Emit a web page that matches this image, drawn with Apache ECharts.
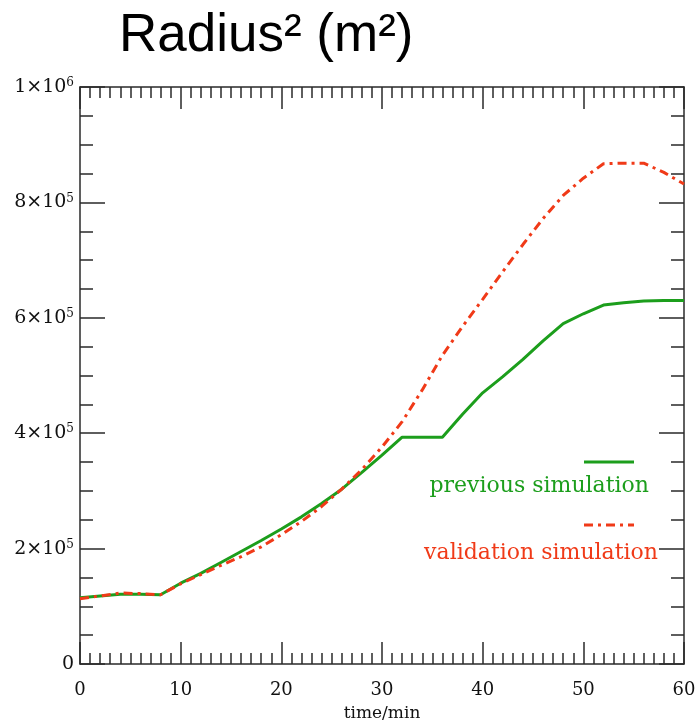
<!DOCTYPE html>
<html>
<head>
<meta charset="utf-8">
<script src="https://cdn.jsdelivr.net/npm/echarts@6/dist/echarts.min.js"></script>
<style>html,body{margin:0;padding:0;background:#fff;}#c{width:695px;height:724px;}</style>
</head>
<body>
<div id="c"></div>
<script>
// time in minutes
var times = [0,2,4,6,8,10,12,14,16,18,20,22,24,26,28,30,32,34,36,38,40,42,44,46,48,50,52,54,56,58,60];
// Radius^2 (m^2)
var previousSim = [115000,118000,121000,121000,120000,140000,157000,176000,195000,214000,234000,255000,278000,303000,332000,362000,393000,393000,393000,433000,470000,498000,528000,560000,590000,607000,622000,626000,629000,630000,630000];
var validationSim = [113000,118000,123000,122000,120000,139000,155000,171000,186000,203000,224000,247000,273000,303000,337000,376000,420000,475000,535000,585000,632000,680000,727000,772000,812000,842000,867000,868000,868000,852000,832000];
var xTicks = [0,10,20,30,40,50,60];
// y tick labels: [mantissa, exponent]
var yTickLabels = {0:['0',''],200000:['2×10','5'],400000:['4×10','5'],600000:['6×10','5'],800000:['8×10','5'],1000000:['1×10','6']};
var seriesNames = ['previous simulation','validation simulation'];

var GREEN = '#1c9e1c', RED = '#f03a18', AX = '#2a2a2a';
var FONT = 'DejaVu Serif';

function pairs(v){ return times.map(function(t,i){ return [t, v[i]]; }); }

var chart = echarts.init(document.getElementById('c'), null, {renderer:'canvas'});
function axLine(){ return {show:true, onZero:false, lineStyle:{color:AX, width:1.5}}; }
chart.setOption({
  animation:false,
  backgroundColor:'#fff',
  title:{text:'Radius² (m²)', left:114, top:5,
    textStyle:{fontFamily:'Liberation Sans', fontSize:53, fontWeight:'normal', color:'#000'}},
  grid:{left:80, right:11, top:87, bottom:60, containLabel:false, outerBoundsMode:'none'},
  xAxis:[
    {type:'value', min:0, max:60, interval:10, position:'bottom',
      axisLine:axLine(), splitLine:{show:false},
      name:'time/min', nameLocation:'middle', nameGap:41,
      nameTextStyle:{fontFamily:FONT, fontSize:17, color:'#111'},
      axisTick:{show:true, inside:true, length:22, lineStyle:{color:AX, width:1.5}},
      minorTick:{show:true, splitNumber:10, length:11, lineStyle:{color:AX, width:1.5}},
      axisLabel:{fontFamily:FONT, fontSize:18, color:'#111', margin:17,
        formatter:function(v){ return xTicks.indexOf(v)>=0 ? String(v) : ''; }}
    },
    {type:'value', min:0, max:60, interval:10, position:'top',
      axisLine:axLine(), splitLine:{show:false},
      axisTick:{show:true, inside:true, length:22, lineStyle:{color:AX, width:1.5}},
      minorTick:{show:true, splitNumber:10, length:11, lineStyle:{color:AX, width:1.5}},
      axisLabel:{show:false}
    }
  ],
  yAxis:[
    {type:'value', min:0, max:1000000, interval:200000, position:'left',
      axisLine:axLine(), splitLine:{show:false},
      axisTick:{show:true, inside:true, length:25, lineStyle:{color:AX, width:1.5}},
      minorTick:{show:true, splitNumber:4, length:13, lineStyle:{color:AX, width:1.5}},
      axisLabel:{color:'#111', margin:6,
        formatter:function(v){ var l = yTickLabels[v]; if(!l) return ''; return l[1] ? '{b|'+l[0]+'}{s|'+l[1]+'}' : '{b|'+l[0]+'}'; },
        rich:{
          b:{fontFamily:FONT, fontSize:19, color:'#111', lineHeight:20},
          s:{fontFamily:FONT, fontSize:12, color:'#111', lineHeight:12, verticalAlign:'top'}
        }}
    },
    {type:'value', min:0, max:1000000, interval:200000, position:'right',
      axisLine:axLine(), splitLine:{show:false},
      axisTick:{show:true, inside:true, length:25, lineStyle:{color:AX, width:1.5}},
      minorTick:{show:true, splitNumber:4, length:13, lineStyle:{color:AX, width:1.5}},
      axisLabel:{show:false}
    }
  ],
  series:[
    {name:seriesNames[0], type:'line', xAxisIndex:0, yAxisIndex:0, data:pairs(previousSim),
      showSymbol:false, smooth:false, lineStyle:{color:GREEN, width:3}, itemStyle:{color:GREEN}, z:3},
    {name:seriesNames[1], type:'line', xAxisIndex:0, yAxisIndex:0, data:pairs(validationSim),
      showSymbol:false, smooth:false, lineStyle:{color:RED, width:3, type:[9,5,3,5]}, itemStyle:{color:RED}, z:4}
  ],
  graphic:[
    {type:'line', shape:{x1:584,y1:462,x2:634,y2:462}, style:{stroke:GREEN, lineWidth:3}},
    {type:'text', style:{text:seriesNames[0], x:649, y:486, align:'right', verticalAlign:'middle',
      font:'22px "DejaVu Serif"', fill:GREEN}},
    {type:'line', shape:{x1:584,y1:525,x2:634,y2:525}, style:{stroke:RED, lineWidth:3, lineDash:[9,5,3,5]}},
    {type:'text', style:{text:seriesNames[1], x:658, y:553, align:'right', verticalAlign:'middle',
      font:'22px "DejaVu Serif"', fill:RED}}
  ]
});
</script>
</body>
</html>
